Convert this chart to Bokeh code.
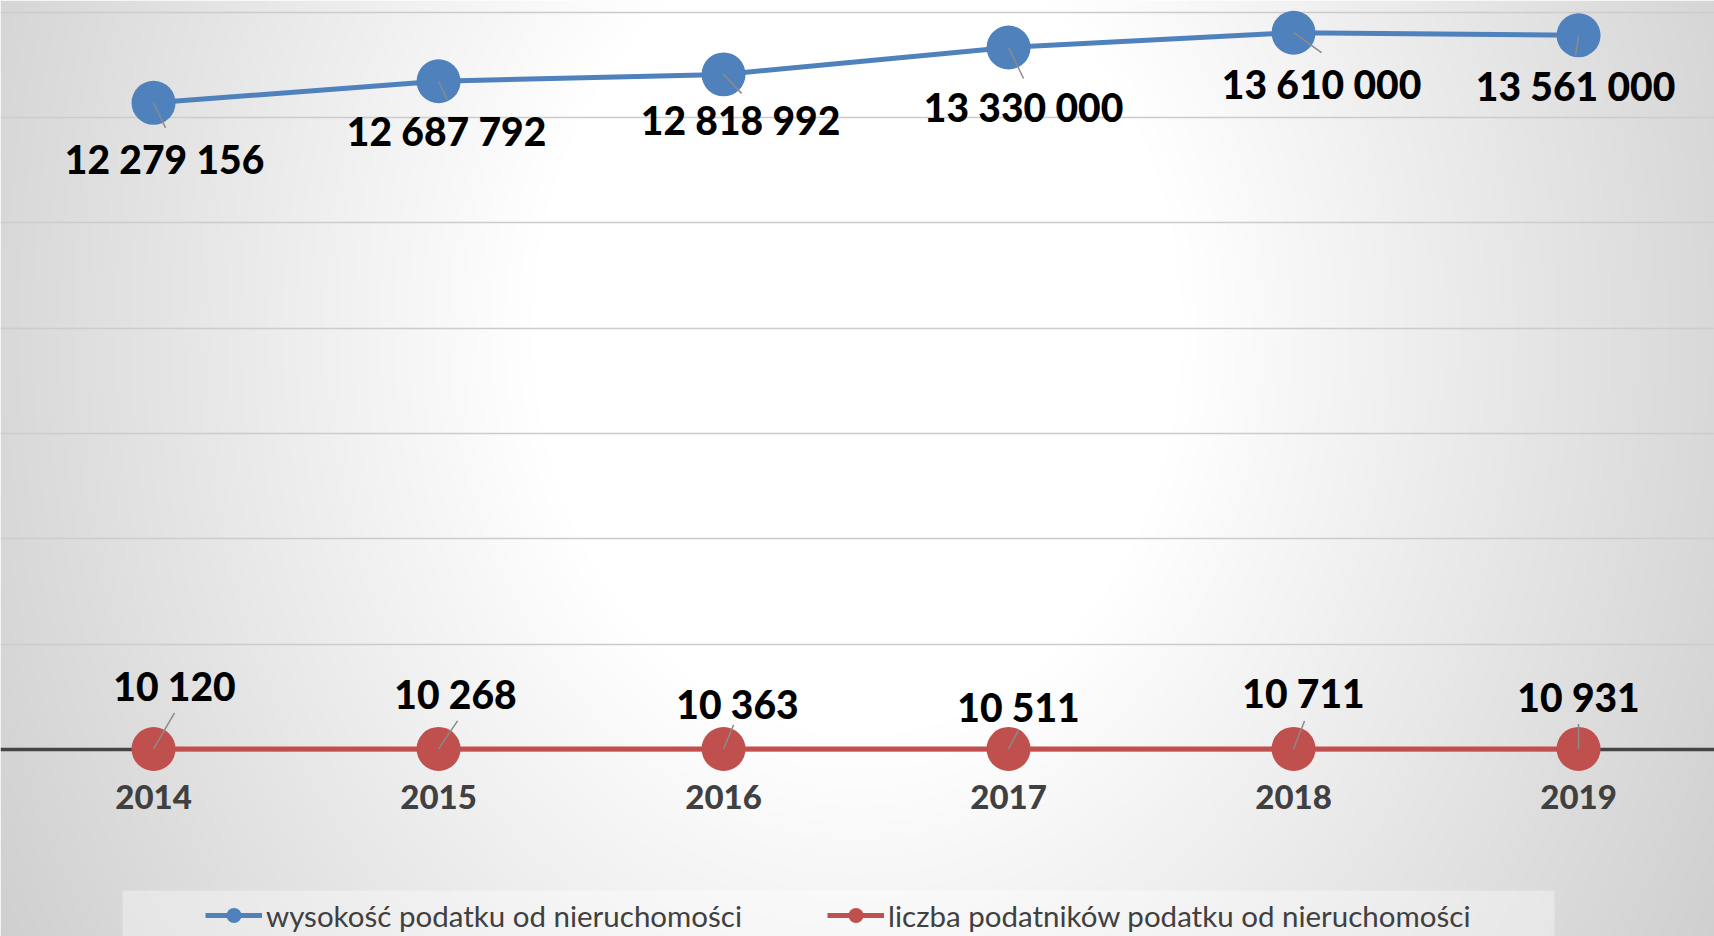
import math
import numpy as np
from bokeh.plotting import figure
from bokeh.models import Range1d, Grid, FixedTicker, Legend, LegendItem
from bokeh.core.properties import value
from bokeh.embed import file_html
from bokeh.resources import INLINE

# ---------------- data ----------------
years = [2014, 2015, 2016, 2017, 2018, 2019]
tax_amount = [12279156, 12687792, 12818992, 13330000, 13610000, 13561000]
taxpayers = [10120, 10268, 10363, 10511, 10711, 10931]
series_names = ["wysokość podatku od nieruchomości",
                "liczba podatników podatku od nieruchomości"]
y_ticks = [2000000, 4000000, 6000000, 8000000, 10000000, 12000000, 14000000]
year_labels = [str(y) for y in years]

# ---------------- styling (screen px, +y = down) ----------------
BLUE = "#4F81BD"
RED = "#C0504D"
amount_label_dx = [11, 8, 17, 15, 28, -3]
amount_label_dy = [56, 50, 46, 60, 51, 51]
payers_label_dx = [21, 17, 14, 10, 10, 0]
payers_label_dy = [-63, -55, -45, -42, -56, -52]
amount_leader = [(12, 25), (9, 19), (18, 19), (15, 31), (28, 20), (-3, 20)]
payers_leader = [(21, -36), (19, -28), (10, -24), (10, -19), (11, -28), (0, -25)]

W, H = 1714, 936
LABEL_SIZE = 39
TICK_SIZE = 33
LABEL_FONT = "'Lato Black', Lato"

def fmt(v):
    return f"{v:,}".replace(",", " ")

x_range = Range1d(years[0] - 0.537, years[-1] + 0.477)
y_range = Range1d(-3.551e6, 14.222e6)

p = figure(width=W, height=H, x_range=x_range, y_range=y_range,
           x_axis_type=None, y_axis_type=None, toolbar_location=None, tools="",
           output_backend="svg", min_border=0, min_border_left=0, min_border_right=0,
           min_border_top=0, min_border_bottom=0)
p.outline_line_color = None
p.background_fill_color = "#ffffff"
p.border_fill_color = "#ffffff"

# ---------------- background radial gradient (+ legend panel) ----------------
sc = 2
h, w = H // sc, W // sc
yy, xx = np.mgrid[0:h, 0:w]
px = (xx + 0.5) * sc
py = (yy + 0.5) * sc
d = np.sqrt((px - 857.0) ** 2 + (0.8 * (py - 330.0)) ** 2)
g = 255.0 - 0.072 * np.clip(d - 318.0, 0, None)
g = np.clip(g, 192, 255)
box = (px >= 122) & (px <= 1554) & (py >= 891)
g = np.where(box, g + 0.35 * (255.0 - g), g)
rgba = np.empty((h, w, 4), dtype=np.uint8)
gi = np.round(g).astype(np.uint8)
rgba[..., 0] = gi
rgba[..., 1] = gi
rgba[..., 2] = gi
rgba[..., 3] = 255
img = np.ascontiguousarray(np.flipud(rgba)).view(np.uint32).reshape(h, w)
p.image_rgba(image=[img], x=x_range.start, y=y_range.start,
             dw=x_range.end - x_range.start, dh=y_range.end - y_range.start,
             level="image")

# ---------------- grid lines ----------------
p.add_layout(Grid(dimension=1, ticker=FixedTicker(ticks=y_ticks),
                  grid_line_color="#cccccc", grid_line_width=1.5))
p.add_layout(Grid(dimension=1, ticker=FixedTicker(ticks=[0]),
                  grid_line_color="#454545", grid_line_width=3.5))

# ---------------- series ----------------
blue_line = p.line(years, tax_amount, line_color=BLUE, line_width=5)
blue_mark = p.scatter(years, tax_amount, size=44, marker="circle",
                      fill_color=BLUE, line_color=None)
red_line = p.line(years, taxpayers, line_color=RED, line_width=5)
red_mark = p.scatter(years, taxpayers, size=44, marker="circle",
                     fill_color=RED, line_color=None)

# leader lines
def leaders(vals, offs):
    ang = [math.atan2(-dy, dx) for dx, dy in offs]
    ln = [math.hypot(dx, dy) for dx, dy in offs]
    p.ray(x=years, y=vals, length=ln, angle=ang, length_units="screen",
          line_color="#8a8a8a", line_width=1.5)

leaders(tax_amount, amount_leader)
leaders(taxpayers, payers_leader)

# data labels
p.text(x=years, y=tax_amount, text=[fmt(v) for v in tax_amount],
       x_offset=amount_label_dx, y_offset=amount_label_dy,
       text_align="center", text_baseline="middle",
       text_font=value(LABEL_FONT), text_font_style="bold",
       text_font_size=f"{LABEL_SIZE}px", text_color="#000000")
p.text(x=years, y=taxpayers, text=[fmt(v) for v in taxpayers],
       x_offset=payers_label_dx, y_offset=payers_label_dy,
       text_align="center", text_baseline="middle",
       text_font=value(LABEL_FONT), text_font_style="bold",
       text_font_size=f"{LABEL_SIZE}px", text_color="#000000")

# category (year) labels under the zero line
p.text(x=years, y=[0] * len(years), text=year_labels,
       y_offset=48,
       text_align="center", text_baseline="middle",
       text_font=value(LABEL_FONT), text_font_style="bold",
       text_font_size=f"{TICK_SIZE}px", text_color="#404040")

# ---------------- legend ----------------
legend = Legend(items=[LegendItem(label=series_names[0], renderers=[blue_line, blue_mark]),
                       LegendItem(label=series_names[1], renderers=[red_line, red_mark])],
                orientation="horizontal", location=(205, 2),
                padding=0, margin=0, spacing=85,
                glyph_width=57, glyph_height=38, label_standoff=4,
                label_text_font="Lato", label_text_font_size="29.5px",
                label_text_color="#404040",
                background_fill_alpha=0, border_line_color=None)
p.add_layout(legend)

open("out.html", "w").write(file_html(p, INLINE))
